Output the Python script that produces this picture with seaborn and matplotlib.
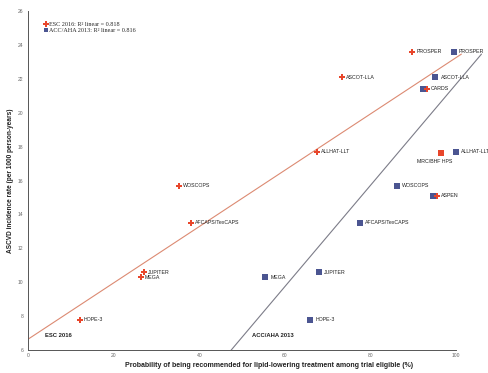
import numpy as np
import pandas as pd
import matplotlib
matplotlib.use("Agg")
import matplotlib.pyplot as plt
import seaborn as sns

# Statin trials: ASCVD incidence vs. probability of treatment recommendation
trials = ["PROSPER", "ASCOT-LLA", "CARDS", "ALLHAT-LLT", "MRC/BHF HPS", "WOSCOPS",
          "ASPEN", "AFCAPS/TexCAPS", "JUPITER", "MEGA", "HOPE-3"]
incidence = [23.6, 22.1, 21.4, 17.7, 17.6, 15.7, 15.1, 13.5, 10.6, 10.3, 7.8]
esc_2016 = [89.8, 73.4, 93.3, 67.6, 96.5, 35.3, 95.5, 38.1, 27.1, 26.4, 12.1]
acc_aha_2013 = [99.5, 95.2, 92.3, 100.0, 96.5, 86.2, 94.7, 77.5, 68.0, 55.4, 65.9]

# Linear fit lines (intercept, slope) and their R²
esc_fit = [6.66, 0.1658]
acc_fit = [-8.125, 0.298]
r2_esc = 0.818
r2_acc = 0.816

x_ticks = [0, 20, 40, 60, 80, 100]
y_ticks = [6, 8, 10, 12, 14, 16, 18, 20, 22, 24, 26]

RED = "#e8462b"
BLUE = "#4b5591"
RED_LINE = "#dc8a72"
GRAY_LINE = "#7c7c88"
FIT_Y_MAX = 23.45

df = pd.DataFrame({"trial": trials, "incidence": incidence,
                   "esc": esc_2016, "acc": acc_aha_2013})

sns.set_style("white")
plt.rcParams["font.family"] = ["Liberation Sans", "DejaVu Sans"]

fig = plt.figure(figsize=(4.88, 3.73), dpi=100)
ax = fig.add_axes([0.058, 0.061, 0.929, 0.91])
ax.set_xlim(0, 106)
ax.set_ylim(6, 26)


def fit_line(coef, color):
    intercept, slope = coef
    x0 = max(0.0, (6 - intercept) / slope)
    x1 = (FIT_Y_MAX - intercept) / slope
    xs = np.linspace(x0, x1, 50)
    sns.lineplot(x=xs, y=intercept + slope * xs, color=color, lw=0.8, ax=ax,
                 zorder=1)


fit_line(esc_fit, RED_LINE)
fit_line(acc_fit, GRAY_LINE)

# ACC/AHA 2013 squares
sns.scatterplot(data=df, x="acc", y="incidence", marker="s", color=BLUE, s=14,
                linewidth=0, ax=ax, zorder=3)

# ESC 2016 markers (MRC/BHF HPS shown as a square on top of the coinciding point)
is_sq = df["trial"] == "MRC/BHF HPS"
sns.scatterplot(data=df[~is_sq], x="esc", y="incidence", marker="P", color=RED,
                s=17, linewidth=0, ax=ax, zorder=4)
sns.scatterplot(data=df[is_sq], x="esc", y="incidence", marker="s", color=RED,
                s=14, linewidth=0, ax=ax, zorder=4)

lab_fs = 3.8
for _, r in df.iterrows():
    if r["trial"] == "MRC/BHF HPS":
        ax.text(r["esc"] - 1.5, r["incidence"] - 0.45, r["trial"], fontsize=lab_fs,
                ha="center", va="center", color="#222222")
        continue
    ax.text(r["esc"] + 0.9, r["incidence"], r["trial"], fontsize=lab_fs,
            ha="left", va="center", color="#222222")
    if abs(r["acc"] - r["esc"]) > 2.5:
        ax.text(r["acc"] + 1.2, r["incidence"], r["trial"], fontsize=lab_fs,
                ha="left", va="center", color="#222222")

ax.text(4, 6.85, "ESC 2016", fontsize=4.2, fontweight="bold", ha="left",
        va="center", color="#222222")
ax.text(52.4, 6.85, "ACC/AHA 2013", fontsize=4.2, fontweight="bold", ha="left",
        va="center", color="#222222")

# Legend
ax.scatter([], [], marker="P", color=RED, s=14, linewidth=0,
           label=f"ESC 2016: R\u00b2 linear = {r2_esc}")
ax.scatter([], [], marker="s", color=BLUE, s=12, linewidth=0,
           label=f"ACC/AHA 2013: R\u00b2 linear = {r2_acc}")
leg = ax.legend(loc="upper left", bbox_to_anchor=(0.026, 0.975), frameon=False,
                prop={"family": ["Liberation Serif", "DejaVu Serif"], "size": 4.4},
                handletextpad=0.1, labelspacing=0.1, borderaxespad=0,
                handlelength=1.0)

# Axes styling
for side in ["top", "right"]:
    ax.spines[side].set_visible(False)
for side in ["left", "bottom"]:
    ax.spines[side].set_color("#555555")
    ax.spines[side].set_linewidth(0.7)
ax.spines["bottom"].set_bounds(0, 100)
ax.spines["left"].set_bounds(6, 26)
ax.set_xticks(x_ticks)
ax.set_yticks(y_ticks)
ax.tick_params(axis="both", direction="out", length=2.5, width=0.6,
               colors="#555555", labelsize=3.6, pad=1, labelcolor="#666666")
ax.tick_params(axis="x", length=2, direction="inout")

ax.set_xlabel("Probability of being recommended for lipid-lowering treatment among trial eligible (%)",
              fontsize=5.0, fontweight="bold", color="#222222", labelpad=3)
ax.set_ylabel("ASCVD incidence rate (per 1000 person-years)", fontsize=4.7,
              fontweight="bold", color="#222222", labelpad=3)
ax.xaxis.set_label_coords(0.53, -0.035)

fig.savefig("out.png", dpi=100)
